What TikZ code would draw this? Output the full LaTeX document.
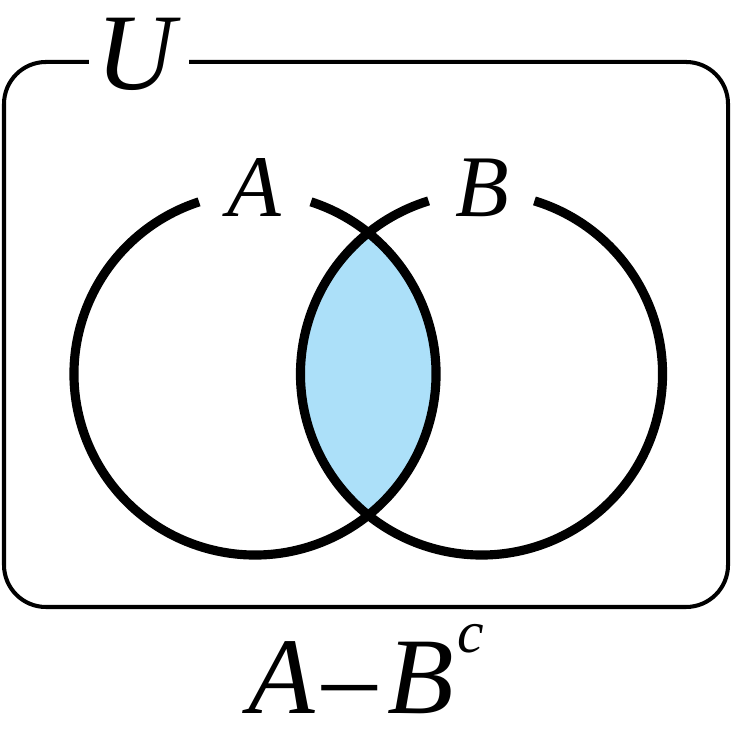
\documentclass[tikz,border=0pt]{standalone}
\usepackage{fontspec}
\setmainfont{Liberation Serif}
\usepackage{tikz}
\usetikzlibrary{calc, positioning}
\definecolor{lensblue}{RGB}{172,224,249}

\begin{document}
\begin{tikzpicture}[
    vien/.style={line width=1.15pt},
    tapHop/.style={line width=2.6pt},
    nhan/.style={font=\fontsize{25}{25}\selectfont\itshape, inner sep=0pt},
    nhanLon/.style={font=\fontsize{31}{31}\selectfont, inner sep=0pt}
]

            \useasboundingbox (0,0) rectangle (7.32,7.46);

            % Tâm hai tập hợp
            \coordinate (Ac) at (2.55,3.72);
            \coordinate (Bc) at (4.815,3.72);

            % Tô phần giao A và B
            \begin{scope}
                \clip (Ac) circle (1.81);
                \fill[lensblue] (Bc) circle (1.81);
            \end{scope}

            % Vẽ tập vũ trụ U
            \draw[vien, rounded corners=0.42cm] (0.04,1.39) rectangle (7.28,6.84);
            \node[nhanLon, fill=white, minimum width=1cm, minimum height=1cm] (U) at (1.39,6.92) {\textit{U}};

            % Vẽ tập A
            \draw[tapHop] ([shift={(72:1.81)}]Ac) arc[start angle=72, end angle=-252, radius=1.81];
            \node[nhan] (A) at (2.54,5.58) {A};

            % Vẽ tập B
            \draw[tapHop] ([shift={(73:1.81)}]Bc) arc[start angle=73, end angle=-253, radius=1.81];
            \node[nhan] (B) at (4.82,5.58) {B};

            % Nhãn phép toán
            \node[nhanLon, anchor=base] (pheptoan) at (3.665,0.33) {\textit{A}\kern2pt\textendash\kern3pt\textit{B}\kern1pt\raisebox{0.6cm}{\fontsize{17}{17}\selectfont\textit{c}}};

\end{tikzpicture}
\end{document}
